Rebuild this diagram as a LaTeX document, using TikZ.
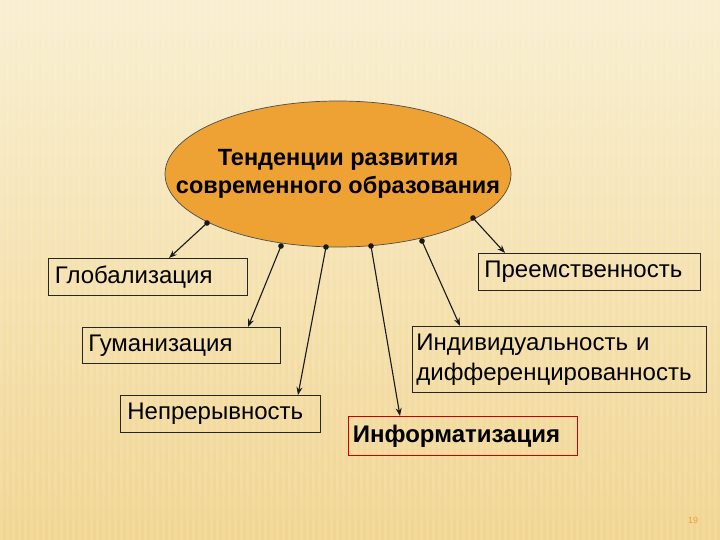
\documentclass[tikz,border=0pt]{standalone}
\usepackage{fontspec}
\setmainfont{Liberation Sans}
\usetikzlibrary{shapes.geometric,arrows.meta}
\definecolor{ovalfill}{HTML}{EFA234}
\definecolor{bgtop}{HTML}{F9EFD0}
\definecolor{bgbot}{HTML}{F1D591}
\definecolor{pagenum}{HTML}{E8A040}
\tikzset{
  box/.style={draw=black!85, line width=0.7pt, inner sep=0pt, anchor=north west, font=\fontsize{24}{30}\selectfont, align=left},
  conn/.style={line width=1.1pt, draw=black!90, {Circle[length=5.5pt]}-{Stealth[length=8pt,width=6pt]}, shorten <=-2.75pt}
}
\begin{document}
\begin{tikzpicture}[x=1pt,y=-1pt]
\useasboundingbox (0,0) rectangle (720,540);
\shade[top color=bgtop, bottom color=bgbot] (0,0) rectangle (720,540);
\foreach \i in {0,6,...,714} {\fill[white, opacity=0.10] (\i,0) rectangle ++(2.5,540);}
\node[ellipse, draw=black!70, line width=0.7pt, fill=ovalfill, inner sep=0pt, minimum width=346pt, minimum height=146pt] (center) at (338,174) {};
\node[align=center, font=\bfseries\fontsize{23.5}{28}\selectfont] (title) at (center.center) {Тенденции развития\\современного образования};
\node[box, minimum width=199pt, minimum height=37pt, text width=190pt] (glob) at (48,258) {\hspace*{2pt}Глобализация};
\node[box, minimum width=198pt, minimum height=36pt, text width=190pt] (guman) at (82,327) {\hspace*{2pt}Гуманизация};
\node[box, minimum width=200pt, minimum height=37pt, text width=190pt] (nepr) at (120,395) {\hspace*{2pt}Непрерывность};
\node[box, minimum width=222pt, minimum height=37pt, text width=214pt] (preem) at (478,253) {\hspace*{2pt}Преемственность};
\node[box, minimum width=294pt, minimum height=66pt, text width=288pt] (indiv) at (412,326) {\hspace*{1pt}Индивидуальность и\\\hspace*{1pt}дифференцированность};
\node[box, draw=red!80!black, minimum width=229pt, minimum height=39pt, text width=224pt, font=\bfseries\fontsize{24}{30}\selectfont] (inform) at (348,416) {\hspace*{2pt}Информатизация};
\coordinate (s1) at (207,223);
\coordinate (s2) at (281,246);
\coordinate (s3) at (326,247);
\coordinate (s4) at (371,246);
\coordinate (s5) at (422,241);
\coordinate (s6) at (473,218);
\draw[conn] (s1) -- (glob.north -| 169,0);
\draw[conn] (s2) -- (guman.north -| 248,0);
\draw[conn] (s3) -- (nepr.north -| 298,0);
\draw[conn] (s4) -- (inform.north -| 400,0);
\draw[conn] (s5) -- (indiv.north -| 460,0);
\draw[conn] (s6) -- (preem.north -| 505,0);
\node[text=pagenum, font=\fontsize{9}{10}\selectfont] (pg) at (693,520) {19};
\end{tikzpicture}
\end{document}
